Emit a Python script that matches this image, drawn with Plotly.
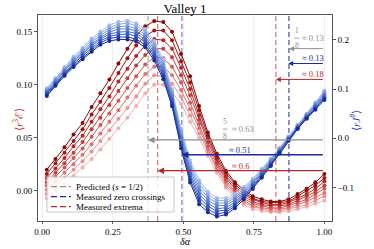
import plotly.graph_objects as go

# ---------------- data ----------------
DELTA_ALPHA = [0.016, 0.047, 0.079, 0.111, 0.143, 0.175, 0.206, 0.238, 0.270, 0.302,
               0.333, 0.365, 0.397, 0.429, 0.460, 0.492, 0.524, 0.556, 0.587, 0.619,
               0.651, 0.683, 0.714, 0.746, 0.778, 0.810, 0.841, 0.873, 0.905, 0.937,
               0.968, 1.000]

# <r^3 E>  (left axis), darkest -> lightest
R3E_1 = [0.020, 0.030, 0.041, 0.053, 0.064, 0.079, 0.092, 0.105, 0.120, 0.134, 0.146, 0.155, 0.160, 0.159, 0.150, 0.129,
         0.108, 0.080, 0.055, 0.035, 0.019, 0.008, 0.001, -0.005, -0.008, -0.010, -0.010, -0.008, -0.003, 0.002, 0.008, 0.016]
R3E_2 = [0.016, 0.026, 0.036, 0.047, 0.058, 0.072, 0.084, 0.097, 0.111, 0.125, 0.137, 0.146, 0.151, 0.151, 0.142, 0.122,
         0.102, 0.076, 0.052, 0.032, 0.017, 0.006, -0.001, -0.007, -0.010, -0.011, -0.011, -0.010, -0.005, 0.000, 0.005, 0.012]
R3E_3 = [0.012, 0.021, 0.031, 0.042, 0.052, 0.065, 0.077, 0.089, 0.103, 0.115, 0.127, 0.137, 0.143, 0.142, 0.134, 0.116,
         0.096, 0.071, 0.049, 0.030, 0.014, 0.004, -0.003, -0.008, -0.011, -0.013, -0.013, -0.011, -0.007, -0.003, 0.002, 0.009]
R3E_4 = [0.008, 0.017, 0.026, 0.036, 0.046, 0.058, 0.069, 0.081, 0.094, 0.106, 0.118, 0.128, 0.134, 0.134, 0.126, 0.109,
         0.090, 0.067, 0.046, 0.027, 0.012, 0.002, -0.005, -0.010, -0.013, -0.014, -0.014, -0.013, -0.009, -0.005, -0.001, 0.005]
R3E_5 = [0.005, 0.013, 0.022, 0.031, 0.040, 0.051, 0.062, 0.073, 0.085, 0.097, 0.108, 0.119, 0.126, 0.125, 0.117, 0.102,
         0.083, 0.063, 0.042, 0.025, 0.010, -0.001, -0.007, -0.012, -0.014, -0.016, -0.016, -0.014, -0.011, -0.008, -0.003, 0.002]
R3E_6 = [0.001, 0.009, 0.017, 0.025, 0.034, 0.044, 0.054, 0.065, 0.076, 0.088, 0.099, 0.110, 0.117, 0.117, 0.109, 0.095,
         0.077, 0.059, 0.039, 0.022, 0.008, -0.003, -0.009, -0.014, -0.016, -0.017, -0.017, -0.016, -0.013, -0.010, -0.006, -0.002]
R3E_7 = [-0.003, 0.004, 0.012, 0.020, 0.028, 0.037, 0.047, 0.057, 0.068, 0.078, 0.089, 0.101, 0.109, 0.108, 0.101, 0.089,
         0.071, 0.054, 0.036, 0.020, 0.005, -0.005, -0.011, -0.015, -0.017, -0.019, -0.019, -0.017, -0.015, -0.013, -0.009, -0.005]
R3E_8 = [-0.007, 0.000, 0.007, 0.014, 0.022, 0.030, 0.039, 0.049, 0.059, 0.069, 0.080, 0.092, 0.100, 0.100, 0.093, 0.082,
         0.065, 0.050, 0.033, 0.017, 0.003, -0.007, -0.013, -0.017, -0.019, -0.020, -0.020, -0.019, -0.017, -0.015, -0.012, -0.009]

# <r J^theta>  (right axis), darkest -> lightest
RJ_1 = [0.086, 0.107, 0.127, 0.145, 0.161, 0.176, 0.190, 0.198, 0.201, 0.201, 0.197, 0.185, 0.158, 0.120, 0.065, -0.020,
        -0.090, -0.134, -0.150, -0.159, -0.155, -0.142, -0.124, -0.103, -0.080, -0.056, -0.031, -0.005, 0.019, 0.040, 0.058, 0.078]
RJ_2 = [0.088, 0.109, 0.130, 0.148, 0.164, 0.180, 0.194, 0.203, 0.206, 0.206, 0.202, 0.190, 0.164, 0.126, 0.070, -0.014,
        -0.084, -0.127, -0.144, -0.154, -0.150, -0.138, -0.120, -0.100, -0.077, -0.054, -0.029, -0.004, 0.020, 0.041, 0.060, 0.081]
RJ_3 = [0.091, 0.111, 0.132, 0.151, 0.168, 0.184, 0.198, 0.207, 0.211, 0.212, 0.208, 0.196, 0.169, 0.131, 0.075, -0.009,
        -0.077, -0.120, -0.138, -0.148, -0.146, -0.134, -0.117, -0.097, -0.075, -0.052, -0.028, -0.002, 0.021, 0.043, 0.062, 0.083]
RJ_4 = [0.093, 0.113, 0.135, 0.154, 0.171, 0.188, 0.202, 0.212, 0.216, 0.217, 0.213, 0.201, 0.175, 0.137, 0.080, -0.003,
        -0.071, -0.113, -0.132, -0.143, -0.141, -0.130, -0.113, -0.094, -0.072, -0.050, -0.026, -0.001, 0.022, 0.044, 0.064, 0.086]
RJ_5 = [0.095, 0.116, 0.137, 0.157, 0.174, 0.191, 0.205, 0.216, 0.222, 0.223, 0.218, 0.206, 0.181, 0.143, 0.085, 0.003,
        -0.064, -0.106, -0.126, -0.137, -0.136, -0.125, -0.110, -0.091, -0.070, -0.047, -0.024, 0.000, 0.024, 0.046, 0.067, 0.089]
RJ_6 = [0.097, 0.118, 0.140, 0.160, 0.177, 0.195, 0.209, 0.221, 0.227, 0.228, 0.223, 0.211, 0.187, 0.149, 0.090, 0.009,
        -0.058, -0.099, -0.120, -0.132, -0.131, -0.121, -0.106, -0.088, -0.067, -0.045, -0.022, 0.001, 0.025, 0.047, 0.069, 0.092]
RJ_7 = [0.100, 0.120, 0.142, 0.163, 0.181, 0.199, 0.213, 0.225, 0.232, 0.234, 0.229, 0.217, 0.192, 0.154, 0.095, 0.014,
        -0.051, -0.092, -0.114, -0.126, -0.127, -0.117, -0.103, -0.085, -0.065, -0.043, -0.021, 0.003, 0.026, 0.049, 0.071, 0.094]
RJ_8 = [0.102, 0.122, 0.145, 0.166, 0.184, 0.203, 0.217, 0.230, 0.237, 0.239, 0.234, 0.222, 0.198, 0.160, 0.100, 0.020,
        -0.045, -0.085, -0.108, -0.121, -0.122, -0.113, -0.099, -0.082, -0.062, -0.041, -0.019, 0.004, 0.027, 0.050, 0.073, 0.097]

R3E_SERIES = [R3E_1, R3E_2, R3E_3, R3E_4, R3E_5, R3E_6, R3E_7, R3E_8]
RJ_SERIES = [RJ_1, RJ_2, RJ_3, RJ_4, RJ_5, RJ_6, RJ_7, RJ_8]

PREDICTED = [0.375, 0.875]
ZERO_CROSSINGS = [0.495, 0.874]
EXTREMA = [0.409, 0.828]

X_TICKS = [0.0, 0.25, 0.5, 0.75, 1.0]
Y_TICKS = [0.0, 0.05, 0.10, 0.15]
Y2_TICKS = [-0.1, 0.0, 0.1, 0.2]

LEGEND_LABELS = ["Predicted (<i>s</i> = 1/2)", "Measured zero crossings", "Measured extrema"]

# ---------------- styles ----------------
FONT = "Liberation Serif"
RED_COLORS = ["#8c0a0a", "#a01616", "#b42828", "#c43c3c", "#d25757", "#de7373", "#e89191", "#f2afaf"]
BLUE_COLORS = ["#1a2a94", "#2742b0", "#3559be", "#4a6dca", "#5f82d2", "#7596da", "#8cabe2", "#a5c1ea"]
GREY = "#8f8f8f"
RED_D = "rgba(205,70,70,0.75)"
BLUE_D = "rgba(70,85,200,0.75)"
RED_A = "#b42a2a"
BLUE_A = "#1c2c9c"

XR = [-0.015, 1.027]
YR = [-0.0284, 0.1657]
Y2R = [-0.168, 0.2507]

# plot area in pixels (for paper-coordinate conversions of overlay items)
PL, PR, PT, PB = 38, 332, 15, 221


def px(xp):
    return (xp - PL) / (PR - PL)


def py(yp):
    return (PB - yp) / (PB - PT)


fig = go.Figure()

# vertical dashed reference lines
for xs, col in [(PREDICTED, "rgba(150,150,150,0.8)"), (EXTREMA, RED_D), (ZERO_CROSSINGS, BLUE_D)]:
    for xv in xs:
        fig.add_trace(go.Scatter(x=[xv, xv], y=YR, mode="lines", showlegend=False,
                                 line=dict(color=col, width=1.2, dash="5px,3px"),
                                 hoverinfo="skip"))

# red family (left axis), lightest first so darkest on top
for vals, col in reversed(list(zip(R3E_SERIES, RED_COLORS))):
    fig.add_trace(go.Scatter(x=DELTA_ALPHA, y=vals, mode="lines+markers", showlegend=False,
                             line=dict(color=col, width=1), marker=dict(color=col, size=4),
                             yaxis="y"))

# blue family (right axis)
for vals, col in reversed(list(zip(RJ_SERIES, BLUE_COLORS))):
    fig.add_trace(go.Scatter(x=DELTA_ALPHA, y=vals, mode="lines+markers", showlegend=False,
                             line=dict(color=col, width=1), marker=dict(color=col, size=4),
                             yaxis="y2"))

annotations = []
shapes = []

# arrows: (level on left axis, target x, color, width)
ARROWS = [(0.134, 0.875, GREY, 1.0), (0.120, 0.872, BLUE_A, 1.0), (0.105, 0.828, RED_A, 1.0),
          (0.048, 0.375, GREY, 1.3), (0.034, 0.495, BLUE_A, 1.3), (0.019, 0.409, RED_A, 1.3)]
for lvl, tx, col, w in ARROWS:
    annotations.append(dict(x=tx, y=lvl, ax=1.0, ay=lvl, xref="x", yref="y", axref="x", ayref="y",
                            text="", showarrow=True, arrowhead=2, arrowsize=1, arrowwidth=w,
                            arrowcolor=col, standoff=0))

LABELS = [(1.004, 0.1442, "≈ 0.13", GREY, "right"),
          (1.004, 0.1254, "≈ 0.13", BLUE_A, "right"),
          (1.004, 0.1104, "≈ 0.18", RED_A, "right"),
          (0.666, 0.0579, "≈ 0.63", GREY, "left"),
          (0.701, 0.0382, "≈ 0.51", BLUE_A, "center"),
          (0.701, 0.0235, "≈ 0.6", RED_A, "center")]
for x, y, t, col, anc in LABELS:
    annotations.append(dict(x=x, y=y, xref="x", yref="y", text=t, showarrow=False,
                            xanchor=anc, yanchor="middle", font=dict(size=8.5, color=col, family=FONT)))

# stacked fractions
FRACS = [(0.903, 0.1439, "1", "8"), (0.648, 0.0582, "5", "8")]
for x, y, num, den in FRACS:
    annotations.append(dict(x=x, y=y + 0.001, xref="x", yref="y", text=num, showarrow=False,
                            yanchor="bottom", font=dict(size=7.5, color=GREY, family=FONT)))
    annotations.append(dict(x=x, y=y - 0.001, xref="x", yref="y", text=den, showarrow=False,
                            yanchor="top", font=dict(size=7.5, color=GREY, family=FONT)))
    shapes.append(dict(type="line", xref="x", yref="y", x0=x - 0.008, x1=x + 0.008, y0=y, y1=y,
                       line=dict(color=GREY, width=0.8)))

# legend (drawn by hand to match compact matplotlib legend)
shapes.append(dict(type="rect", xref="paper", yref="paper", x0=px(47), x1=px(174), y0=py(212), y1=py(177),
                   fillcolor="rgba(255,255,255,0.8)", line=dict(color="#c8c8c8", width=1), layer="above"))
for i, (lab, col) in enumerate(zip(LEGEND_LABELS, [GREY, BLUE_A, RED_A])):
    yc = 186.7 + 10 * i
    shapes.append(dict(type="line", xref="paper", yref="paper", x0=px(51), x1=px(71), y0=py(yc), y1=py(yc),
                       line=dict(color=col, width=1.3, dash="6px,3px"), layer="above"))
    annotations.append(dict(x=px(74), y=py(yc), xref="paper", yref="paper", text=lab, showarrow=False,
                            xanchor="left", yanchor="middle", font=dict(size=9, family=FONT, color="black")))

# axis titles
annotations.append(dict(x=px(9), y=py(120), xref="paper", yref="paper", text="⟨<i>r</i><sup>3</sup>ℰ⟩",
                        textangle=-90, showarrow=False, font=dict(size=11, color="#c0392b", family=FONT)))
annotations.append(dict(x=px(364), y=py(120), xref="paper", yref="paper",
                        text="⟨<i>rJ</i><sup><i>θ</i></sup>⟩",
                        textangle=-90, showarrow=False, font=dict(size=11, color="#2c45c0", family=FONT)))
annotations.append(dict(x=0.5, y=py(249), xref="paper", yref="paper", text="<i>δα</i>", yanchor="bottom",
                        showarrow=False, font=dict(size=10, color="black", family=FONT)))

axis_common = dict(showline=True, linecolor="#555555", linewidth=1, ticks="outside",
                   tickcolor="#555555", zeroline=False, tickfont=dict(size=9, family=FONT, color="black"))

fig.update_layout(
    width=374, height=249,
    margin=dict(l=PL, r=374 - PR, t=PT, b=249 - PB),
    paper_bgcolor="white", plot_bgcolor="white",
    font=dict(family=FONT, size=9, color="black"),
    showlegend=False,
    title=dict(text="Valley 1", x=0.5, xref="paper", xanchor="center", y=1 - 8 / 249, yanchor="middle",
               font=dict(size=13, family=FONT, color="black")),
    xaxis=dict(range=XR, tickvals=X_TICKS, tickformat=".2f", showgrid=True, gridcolor="#eeeeee",
               mirror=True, ticklen=2, **axis_common),
    yaxis=dict(range=YR, tickvals=Y_TICKS, tickformat=".2f", showgrid=False, mirror=False, ticklen=3,
               **axis_common),
    yaxis2=dict(range=Y2R, tickvals=Y2_TICKS, tickformat=".1f", overlaying="y", side="right",
                showgrid=False, ticklen=3, **axis_common),
    annotations=annotations,
    shapes=shapes,
)

fig.write_html("out.html", config={"displayModeBar": False, "staticPlot": True},
               post_script="document.body.style.margin='0';document.body.style.padding='0';")
